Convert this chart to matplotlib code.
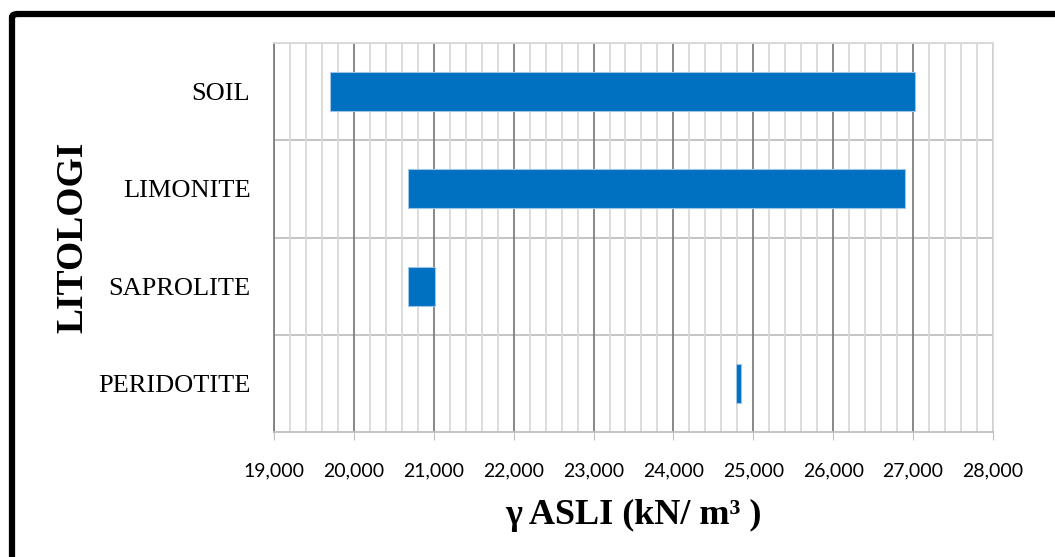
import matplotlib.pyplot as plt
from matplotlib.patches import FancyBboxPatch
from matplotlib.ticker import MultipleLocator, FuncFormatter

# Data: start and end of each range (kN/m3)
categories = ['PERIDOTITE', 'SAPROLITE', 'LIMONITE', 'SOIL']
range_start = [24780, 20680, 20680, 19700]
range_end = [24850, 21010, 26900, 27030]

fig = plt.figure(figsize=(10.55, 5.57), dpi=100)
ax = fig.add_axes([0.2597, 0.2244, 0.9412 - 0.2597, 0.9228 - 0.2244])

widths = [e - s for s, e in zip(range_start, range_end)]
ax.barh(range(len(categories)), widths, left=range_start, height=0.4,
        color='#0070C0', edgecolor='#9DC3E6', linewidth=0.8, zorder=3)

ax.set_xlim(19000, 28000)
ax.set_ylim(-0.5, len(categories) - 0.5)

# grid
ax.xaxis.set_major_locator(MultipleLocator(1000))
ax.xaxis.set_minor_locator(MultipleLocator(200))
ax.grid(which='major', axis='x', color='#7F7F7F', linewidth=1.3, zorder=1)
ax.grid(which='minor', axis='x', color='#D9D9D9', linewidth=1.3, zorder=0)
for b in [0.5, 1.5, 2.5, 3.5]:
    ax.axhline(b, color='#BFBFBF', linewidth=1.3, zorder=1)

ax.xaxis.set_major_formatter(FuncFormatter(lambda v, p: f'{int(v):,}'))
ax.set_yticks(range(len(categories)))
ax.set_yticklabels(categories, fontsize=19, family='Liberation Serif')
ax.tick_params(axis='y', length=0, pad=17)
ax.tick_params(axis='x', which='major', length=6, color='#BFBFBF', pad=16,
               labelsize=14)
ax.tick_params(axis='x', which='minor', length=0)
for lab in ax.get_xticklabels():
    lab.set_family('Lato')

for side in ['top', 'right']:
    ax.spines[side].set_color('#D9D9D9')
ax.spines['bottom'].set_color('#BFBFBF')
ax.spines['left'].set_color('#7F7F7F')
for s in ax.spines.values():
    s.set_linewidth(1.3)

ax.set_ylabel('LITOLOGI', fontsize=27, fontweight='bold', family='Liberation Serif')
ax.yaxis.set_label_coords(-0.255, 0.5)
ax.set_xlabel('γ ASLI (kN/ m³ )', fontsize=26, fontweight='bold',
              family='Liberation Serif', labelpad=14)

# outer frame
frame = FancyBboxPatch((12 / 1055, -0.05), 1.1, (557 - 14) / 557 + 0.05,
                       boxstyle='round,pad=0,rounding_size=0.006',
                       transform=fig.transFigure, fill=False,
                       edgecolor='black', linewidth=4.5, clip_on=False)
fig.patches.append(frame)

fig.savefig('out.png', dpi=100)
